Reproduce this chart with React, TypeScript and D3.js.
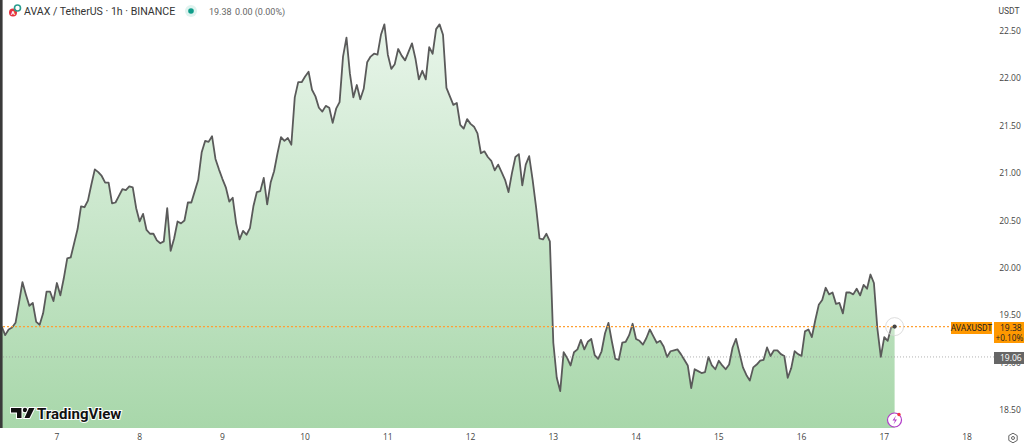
import React from "react";
import * as d3 from "d3";

const W = 1024, H = 443;
const dayTicks = [7, 8, 9, 10, 11, 12, 13, 14, 15, 16, 17, 18];
const priceTicks = [22.5, 22, 21.5, 21, 20.5, 20, 19.5, 19, 18.5];
const firstHourOffset = -16;
const prices = [
  19.38,19.29,19.35,19.37,19.42,19.63,19.85,19.72,19.6,19.63,19.43,19.4,19.52,19.75,19.75,19.65,19.84,19.71,19.89,20.1,
  20.11,20.26,20.41,20.65,20.64,20.71,20.88,21.04,21.01,20.97,20.9,20.9,20.68,20.69,20.76,20.83,20.82,20.86,20.85,20.63,
  20.49,20.57,20.4,20.36,20.36,20.29,20.26,20.28,20.63,20.18,20.31,20.49,20.47,20.5,20.69,20.69,20.81,20.93,21.22,21.34,
  21.33,21.39,21.15,21.04,20.94,20.85,20.7,20.74,20.47,20.3,20.39,20.35,20.42,20.65,20.8,20.81,20.95,20.67,20.9,21.02,
  21.21,21.38,21.34,21.37,21.3,21.8,21.96,21.96,22.02,22.07,21.88,21.81,21.69,21.65,21.71,21.69,21.53,21.68,21.75,22.23,
  22.43,22.05,21.8,21.93,21.78,21.89,22.17,22.23,22.26,22.25,22.46,22.57,22.25,22.1,22.15,22.31,22.24,22.19,22.28,22.37,
  22.21,21.99,22.08,21.99,22.33,22.26,22.52,22.57,22.46,21.9,21.81,21.72,21.74,21.51,21.47,21.57,21.52,21.49,21.42,21.21,
  21.23,21.17,21.13,21.03,21.09,21.01,20.93,20.8,21.0,21.17,21.2,20.87,21.09,21.18,20.93,20.64,20.31,20.3,20.36,20.28,
  19.21,18.84,18.7,19.11,19.05,18.97,19.11,19.14,19.24,19.14,19.22,19.25,19.08,19.04,19.12,19.31,19.42,19.22,19.04,19.03,
  19.21,19.22,19.29,19.41,19.25,19.23,19.19,19.26,19.35,19.28,19.21,19.23,19.17,19.06,19.12,19.13,19.14,19.09,19.03,18.97,
  18.73,18.93,18.91,18.89,18.9,19.06,18.97,18.93,19.02,18.97,18.93,18.98,19.16,19.25,19.1,18.95,18.87,18.81,18.95,18.98,
  19.02,19.03,19.16,19.07,19.13,19.13,19.09,19.07,18.84,18.94,19.12,19.09,19.07,19.33,19.35,19.27,19.45,19.61,19.66,19.79,
  19.72,19.74,19.62,19.63,19.52,19.74,19.74,19.72,19.78,19.71,19.82,19.78,19.93,19.84,19.36,19.06,19.27,19.23,19.37,19.38,
];
const lastPrice = 19.38;
const markPrice = 19.06;

const x = d3.scaleLinear().domain([7, 18]).range([56.9, 967]);
const y = d3.scaleLinear().domain([18.5, 22.5]).range([410, 31]);
const px = (_: number, i: number) => x(7 + (i + firstHourOffset) / 24);
const BASE = 428;
const FONT = "Roboto, 'Open Sans', sans-serif";
const AXIS = "'Open Sans', Roboto, sans-serif";

export default function App() {
  const line = d3.line<number>().x(px).y((d) => y(d));
  const area = d3.area<number>().x(px).y0(BASE).y1((d) => y(d));
  const lastX = px(0, prices.length - 1);
  const lastY = y(lastPrice);
  const markY = y(markPrice);
  return (
    <svg width={W} height={H} viewBox={`0 0 ${W} ${H}`}
      style={{ position: "fixed", left: 0, top: 0, background: "#fff", fontFamily: FONT }}>
      <defs>
        <linearGradient id="fill" gradientUnits="userSpaceOnUse" x1="0" y1="25" x2="0" y2={BASE}>
          <stop offset="0" stopColor="#e8f5ea" />
          <stop offset="1" stopColor="#a8d7aa" />
        </linearGradient>
        <clipPath id="pane"><rect x="0" y="0" width="946" height={BASE} /></clipPath>
      </defs>
      <g clipPath="url(#pane)">
        <path d={area(prices) ?? ""} fill="url(#fill)" />
        <path d={line(prices) ?? ""} fill="none" stroke="#5a5a5a" strokeWidth={1.8} strokeLinejoin="round" />
      </g>
      <line x1={3} x2={994} y1={markY} y2={markY} stroke="#9a9a9a" strokeWidth={1} strokeDasharray="1 2" opacity={0.75} />
      <line x1={3} x2={951} y1={lastY} y2={lastY} stroke="#ffa033" strokeWidth={1.1} strokeDasharray="2 2" />
      <circle cx={lastX} cy={lastY} r={9} fill="#fff" fillOpacity={0.25} stroke="#d4d4d4" strokeWidth={0.8} />
      <circle cx={lastX} cy={lastY} r={2.1} fill="#444" />
      <rect x={0} y={0} width={2.6} height={BASE} fill="#3a3a3a" />

      {/* header */}
      <circle cx={13} cy={12.5} r={4} fill="#e5333f" />
      <text x={13} y={14.6} fontSize={6} fontWeight={700} fill="#fff" textAnchor="middle">A</text>
      <circle cx={17.5} cy={8} r={3} fill="none" stroke="#2a9d8f" strokeWidth={1.6} />
      <text x={24} y={15} fontSize={10.6} fill="#333">AVAX / TetherUS · 1h · BINANCE</text>
      <circle cx={191} cy={11} r={6} fill="#dff3ef" />
      <circle cx={191} cy={11} r={2.8} fill="#0f9d8a" />
      <text x={209} y={15} fontSize={9} fill="#666">19.38</text>
      <text x={235} y={15} fontSize={9} fill="#666">0.00 (0.00%)</text>

      {/* price axis */}
      <text x={1009} y={14} fontSize={8.5} fill="#444" textAnchor="middle">USDT</text>
      {priceTicks.map((t) => (
        <text key={t} x={1010} y={y(t) + 3} fontSize={8.5} fill="#444" textAnchor="middle" fontFamily={AXIS}>{t.toFixed(2)}</text>
      ))}
      <rect x={951} y={322} width={41} height={12} fill="#ff9800" />
      <text x={971.5} y={331} fontSize={8.4} fill="#222" textAnchor="middle">AVAXUSDT</text>
      <rect x={994} y={322} width={30} height={21} fill="#ff9800" />
      <text x={1000} y={331} fontSize={8.5} fill="#222" fontFamily={AXIS}>{lastPrice.toFixed(2)}</text>
      <text x={995.5} y={341} fontSize={8.2} fill="#222" fontFamily={AXIS}>+0.10%</text>
      <rect x={994} y={352} width={30} height={12} fill="#666" />
      <text x={1000} y={361} fontSize={8.5} fill="#fff" fontFamily={AXIS}>{markPrice.toFixed(2)}</text>

      {/* time axis */}
      {dayTicks.map((d) => (
        <text key={d} x={x(d)} y={440} fontSize={8.5} fill="#444" textAnchor="middle" fontFamily={AXIS}>{d}</text>
      ))}

      {/* logo */}
      <g fill="#111" stroke="#fff" strokeWidth={2} paintOrder="stroke">
        <path d="M11 408h10.5v10h-4.5v-5.5h-6z" />
        <circle cx={25} cy={410} r={2.2} />
        <path d="M29 408h5.5l-5 10h-5z" />
        <text x={37} y={419} fontSize={15} fontWeight={700}>TradingView</text>
      </g>

      {/* bolt */}
      <circle cx={894.5} cy={420} r={7} fill="#fff" stroke="#b13cc9" strokeWidth={1.2} />
      <path d="M896 415.5l-3.5 5h2.5l-1.5 4 3.5-5h-2.5z" fill="#b13cc9" />
      <circle cx={899} cy={414.5} r={1.7} fill="#f23645" />

      {/* settings */}
      <path d="M1013 433.2l4.2 2.4v4.8l-4.2 2.4-4.2-2.4v-4.8z" fill="none" stroke="#555" strokeWidth={0.9} />
      <circle cx={1013} cy={438} r={1.5} fill="none" stroke="#555" strokeWidth={0.9} />
    </svg>
  );
}
